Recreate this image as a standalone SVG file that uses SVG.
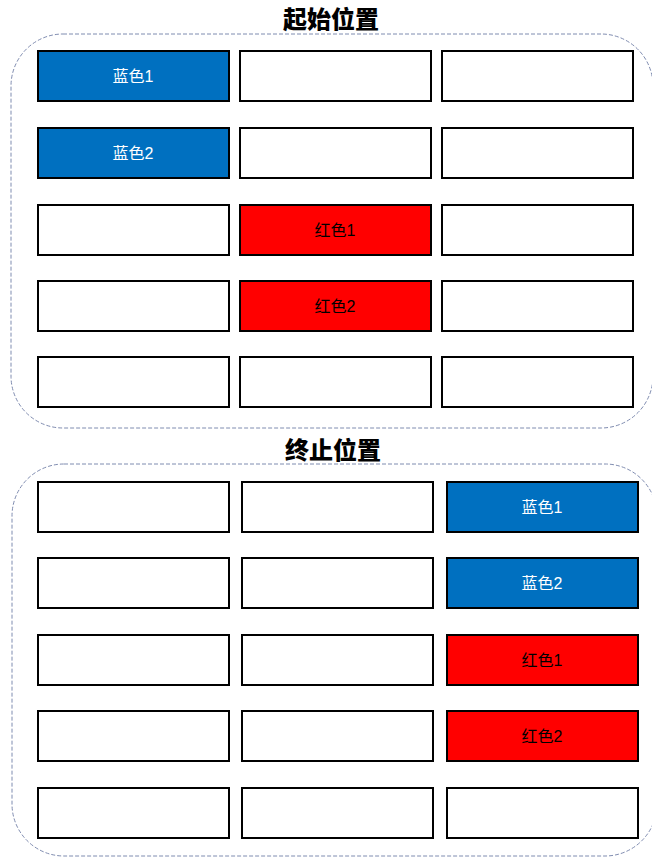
<svg xmlns="http://www.w3.org/2000/svg" width="652" height="857" viewBox="0 0 652 857">
<style>
.cont{fill:none;stroke:#7F8CB0;stroke-width:1;stroke-dasharray:4 2}
.box{fill:#fff;stroke:#000;stroke-width:2}
.blue{fill:#0070C0}
.red{fill:#FF0000}
.t{font-family:"Liberation Sans","Noto Sans CJK SC",sans-serif;font-size:16px;text-anchor:middle;dominant-baseline:central}
.tw{fill:#fff}
.tb{fill:#000}
.title{font-family:"Noto Sans CJK SC",sans-serif;font-size:24px;font-weight:900;text-anchor:middle;fill:#000}
</style>
<rect class="cont" x="11" y="34" width="642" height="394" rx="52"/>
<rect class="cont" x="12" y="464" width="645" height="392" rx="52"/>
<text class="title" x="331" y="28">起始位置</text>
<text class="title" x="333" y="459">终止位置</text>
<g id="start">
<g id="s11"><rect class="box blue" x="38" y="51" width="191" height="50"/><text class="t tw" x="133" y="76">蓝色1</text></g>
<g id="s12"><rect class="box" x="240" y="51" width="191" height="50"/></g>
<g id="s13"><rect class="box" x="442" y="51" width="191" height="50"/></g>
<g id="s21"><rect class="box blue" x="38" y="128" width="191" height="50"/><text class="t tw" x="133" y="153">蓝色2</text></g>
<g id="s22"><rect class="box" x="240" y="128" width="191" height="50"/></g>
<g id="s23"><rect class="box" x="442" y="128" width="191" height="50"/></g>
<g id="s31"><rect class="box" x="38" y="205" width="191" height="50"/></g>
<g id="s32"><rect class="box red" x="240" y="205" width="191" height="50"/><text class="t tb" x="335" y="230">红色1</text></g>
<g id="s33"><rect class="box" x="442" y="205" width="191" height="50"/></g>
<g id="s41"><rect class="box" x="38" y="281" width="191" height="50"/></g>
<g id="s42"><rect class="box red" x="240" y="281" width="191" height="50"/><text class="t tb" x="335" y="306">红色2</text></g>
<g id="s43"><rect class="box" x="442" y="281" width="191" height="50"/></g>
<g id="s51"><rect class="box" x="38" y="357" width="191" height="50"/></g>
<g id="s52"><rect class="box" x="240" y="357" width="191" height="50"/></g>
<g id="s53"><rect class="box" x="442" y="357" width="191" height="50"/></g>
</g>
<g id="end">
<g id="e11"><rect class="box" x="38" y="482" width="191" height="50"/></g>
<g id="e12"><rect class="box" x="242" y="482" width="191" height="50"/></g>
<g id="e13"><rect class="box blue" x="447" y="482" width="191" height="50"/><text class="t tw" x="542" y="507">蓝色1</text></g>
<g id="e21"><rect class="box" x="38" y="558" width="191" height="50"/></g>
<g id="e22"><rect class="box" x="242" y="558" width="191" height="50"/></g>
<g id="e23"><rect class="box blue" x="447" y="558" width="191" height="50"/><text class="t tw" x="542" y="583">蓝色2</text></g>
<g id="e31"><rect class="box" x="38" y="635" width="191" height="50"/></g>
<g id="e32"><rect class="box" x="242" y="635" width="191" height="50"/></g>
<g id="e33"><rect class="box red" x="447" y="635" width="191" height="50"/><text class="t tb" x="542" y="660">红色1</text></g>
<g id="e41"><rect class="box" x="38" y="711" width="191" height="50"/></g>
<g id="e42"><rect class="box" x="242" y="711" width="191" height="50"/></g>
<g id="e43"><rect class="box red" x="447" y="711" width="191" height="50"/><text class="t tb" x="542" y="736">红色2</text></g>
<g id="e51"><rect class="box" x="38" y="788" width="191" height="50"/></g>
<g id="e52"><rect class="box" x="242" y="788" width="191" height="50"/></g>
<g id="e53"><rect class="box" x="447" y="788" width="191" height="50"/></g>
</g>
<g id="connectors"/>
</svg>
